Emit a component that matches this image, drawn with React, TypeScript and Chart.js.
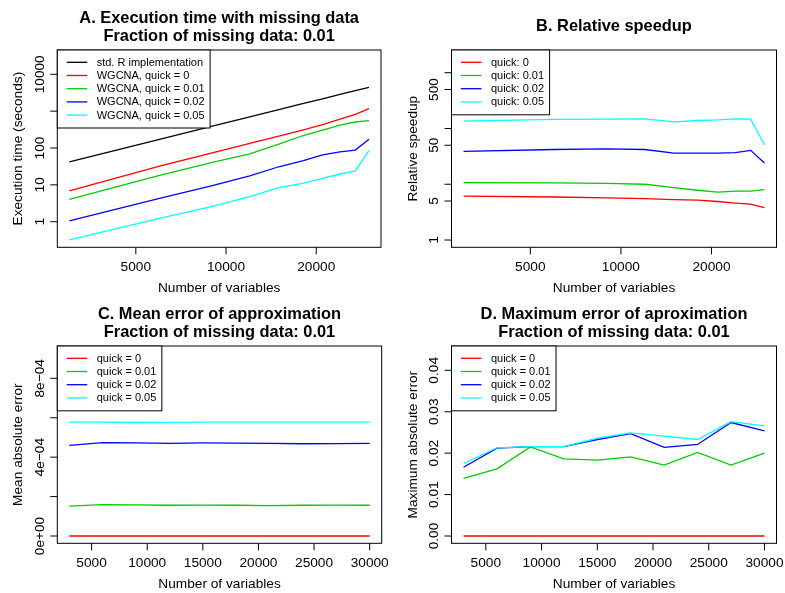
import React, { useEffect, useRef } from "react";
import { Chart, registerables } from "chart.js";

Chart.register(...registerables);

// ---------------- data ----------------
const numberOfVariables = [3000, 6000, 9000, 12000, 15000, 18000, 21000, 24000, 27000, 30000];

// A. Execution time (seconds)
const timeStdR = [42, 172, 390, 700, 1100, 1590, 2170, 2840, 3600, 4450];
const timeQuick0 = [6.9, 32, 74, 133, 211, 305, 428, 606, 822, 1165];
const timeQuick001 = [4.05, 18, 41, 69, 128, 215, 305, 421, 508, 551];
const timeQuick002 = [1.06, 4.3, 9.5, 17.4, 31, 45, 65, 79, 88, 172];
const timeQuick005 = [0.32, 1.24, 2.6, 4.8, 8.4, 11, 15, 19.7, 24, 84.5];

// B. Relative speedup
const speedupQuick0 = [6.1, 5.9, 5.7, 5.5, 5.3, 5.2, 4.9, 4.6, 4.4, 3.8];
const speedupQuick001 = [10.7, 10.6, 10.4, 10.0, 8.7, 7.8, 7.2, 7.5, 7.5, 8.0];
const speedupQuick002 = [39, 42, 43, 42, 36, 36, 36, 37, 40.5, 24];
const speedupQuick005 = [135, 145, 147, 149, 131, 139, 143, 149, 147, 51];

// C. Mean absolute error
const meanErrQuick0 = [0, 0, 0, 0, 0, 0, 0, 0, 0, 0];
const meanErrQuick001 = [1.52e-4, 1.59e-4, 1.58e-4, 1.56e-4, 1.57e-4, 1.56e-4, 1.54e-4, 1.56e-4, 1.57e-4, 1.56e-4];
const meanErrQuick002 = [4.6e-4, 4.74e-4, 4.72e-4, 4.7e-4, 4.72e-4, 4.71e-4, 4.7e-4, 4.68e-4, 4.69e-4, 4.7e-4];
const meanErrQuick005 = [5.78e-4, 5.78e-4, 5.76e-4, 5.77e-4, 5.78e-4, 5.78e-4, 5.78e-4, 5.78e-4, 5.78e-4, 5.78e-4];

// D. Maximum absolute error
const maxErrQuick0 = [0, 0, 0, 0, 0, 0, 0, 0, 0, 0];
const maxErrQuick001 = [0.0139, 0.0162, 0.0215, 0.0186, 0.0183, 0.0191, 0.0171, 0.0202, 0.0171, 0.02];
const maxErrQuick002 = [0.0166, 0.0212, 0.0216, 0.0216, 0.0233, 0.0247, 0.0214, 0.0221, 0.0274, 0.0254];
const maxErrQuick005 = [0.0175, 0.0213, 0.0216, 0.0216, 0.0236, 0.0249, 0.0241, 0.0233, 0.0276, 0.0266];

// tick values / labels
const logXTicks = [5000, 10000, 20000];
const logXTickLabels = ["5000", "10000", "20000"];
const linXTicks = [5000, 10000, 15000, 20000, 25000, 30000];
const linXTickLabels = ["5000", "10000", "15000", "20000", "25000", "30000"];
const timeTicks = [1, 10, 100, 1000, 10000];
const timeTickLabels = ["1", "10", "100", "", "10000"];
const speedupTicks = [1, 5, 10, 50, 100, 500, 1000];
const speedupTickLabels = ["1", "5", "", "50", "", "500", ""];
const meanErrTicks = [0, 2e-4, 4e-4, 6e-4, 8e-4];
const meanErrTickLabels = ["0e+00", "", "4e\u221204", "", "8e\u221204"];
const maxErrTicks = [0, 0.01, 0.02, 0.03, 0.04];
const maxErrTickLabels = ["0.00", "0.01", "0.02", "0.03", "0.04"];

const BLACK = "#000000";
const RED = "#FF0000";
const GREEN = "#00CD00";
const BLUE = "#0000FF";
const CYAN = "#00FFFF";

const FONT = '"Liberation Sans", Arial, Helvetica, sans-serif';

type Series = { label: string; values: number[]; color: string };
type PanelSpec = {
  key: string;
  left: number;
  top: number;
  width: number;
  height: number;
  pad: { left: number; right: number; top: number; bottom: number };
  xType: "linear" | "logarithmic";
  yType: "linear" | "logarithmic";
  xMin: number;
  xMax: number;
  yMin: number;
  yMax: number;
  xTicks: number[];
  xTickLabels: string[];
  yTicks: number[];
  yTickLabels: string[];
  title: string[];
  xTitle: string;
  yTitle: string;
  series: Series[];
};

const panels: PanelSpec[] = [
  {
    key: "A",
    left: 0,
    top: 0,
    width: 392,
    height: 296,
    pad: { left: 57.3, right: 11, top: 50, bottom: 48.7 },
    xType: "logarithmic",
    yType: "logarithmic",
    xMin: 2735,
    xMax: 32900,
    yMin: 0.202,
    yMax: 45700,
    xTicks: logXTicks,
    xTickLabels: logXTickLabels,
    yTicks: timeTicks,
    yTickLabels: timeTickLabels,
    title: ["A. Execution time with missing data", "Fraction of missing data: 0.01"],
    xTitle: "Number of variables",
    yTitle: "Execution time (seconds)",
    series: [
      { label: "std. R implementation", values: timeStdR, color: BLACK },
      { label: "WGCNA, quick = 0", values: timeQuick0, color: RED },
      { label: "WGCNA, quick = 0.01", values: timeQuick001, color: GREEN },
      { label: "WGCNA, quick = 0.02", values: timeQuick002, color: BLUE },
      { label: "WGCNA, quick = 0.05", values: timeQuick005, color: CYAN },
    ],
  },
  {
    key: "B",
    left: 392,
    top: 0,
    width: 393,
    height: 296,
    pad: { left: 59.5, right: 8.5, top: 50, bottom: 48.7 },
    xType: "logarithmic",
    yType: "logarithmic",
    xMin: 2735,
    xMax: 32900,
    yMin: 0.74,
    yMax: 2553,
    xTicks: logXTicks,
    xTickLabels: logXTickLabels,
    yTicks: speedupTicks,
    yTickLabels: speedupTickLabels,
    title: ["B. Relative speedup"],
    xTitle: "Number of variables",
    yTitle: "Relative speedup",
    series: [
      { label: "quick: 0", values: speedupQuick0, color: RED },
      { label: "quick: 0.01", values: speedupQuick001, color: GREEN },
      { label: "quick: 0.02", values: speedupQuick002, color: BLUE },
      { label: "quick: 0.05", values: speedupQuick005, color: CYAN },
    ],
  },
  {
    key: "C",
    left: 0,
    top: 296,
    width: 392,
    height: 297,
    pad: { left: 57.3, right: 10.3, top: 50, bottom: 49.7 },
    xType: "linear",
    yType: "linear",
    xMin: 1920,
    xMax: 31080,
    yMin: -3.7e-5,
    yMax: 9.64e-4,
    xTicks: linXTicks,
    xTickLabels: linXTickLabels,
    yTicks: meanErrTicks,
    yTickLabels: meanErrTickLabels,
    title: ["C. Mean error of approximation", "Fraction of missing data: 0.01"],
    xTitle: "Number of variables",
    yTitle: "Mean absolute error",
    series: [
      { label: "quick = 0", values: meanErrQuick0, color: RED },
      { label: "quick = 0.01", values: meanErrQuick001, color: GREEN },
      { label: "quick = 0.02", values: meanErrQuick002, color: BLUE },
      { label: "quick = 0.05", values: meanErrQuick005, color: CYAN },
    ],
  },
  {
    key: "D",
    left: 392,
    top: 296,
    width: 393,
    height: 297,
    pad: { left: 59.5, right: 8.5, top: 50, bottom: 49.7 },
    xType: "linear",
    yType: "linear",
    xMin: 1920,
    xMax: 31080,
    yMin: -0.00176,
    yMax: 0.04587,
    xTicks: linXTicks,
    xTickLabels: linXTickLabels,
    yTicks: maxErrTicks,
    yTickLabels: maxErrTickLabels,
    title: ["D. Maximum error of aproximation", "Fraction of missing data: 0.01"],
    xTitle: "Number of variables",
    yTitle: "Maximum absolute error",
    series: [
      { label: "quick = 0", values: maxErrQuick0, color: RED },
      { label: "quick = 0.01", values: maxErrQuick001, color: GREEN },
      { label: "quick = 0.02", values: maxErrQuick002, color: BLUE },
      { label: "quick = 0.05", values: maxErrQuick005, color: CYAN },
    ],
  },
];

function makeRPlugin(spec: PanelSpec) {
  return {
    id: "rStyle" + spec.key,
    afterDraw(chart: any) {
      const ctx: CanvasRenderingContext2D = chart.ctx;
      const { left, right, top, bottom } = chart.chartArea;
      const xs = chart.scales.x;
      const ys = chart.scales.y;
      ctx.save();
      ctx.strokeStyle = "#000";
      ctx.fillStyle = "#000";
      ctx.lineWidth = 1;

      // box
      ctx.strokeRect(left, top, right - left, bottom - top);

      // x ticks
      ctx.font = `13.7px ${FONT}`;
      ctx.textAlign = "center";
      ctx.textBaseline = "alphabetic";
      spec.xTicks.forEach((v, i) => {
        const px = xs.getPixelForValue(v);
        ctx.beginPath();
        ctx.moveTo(px, bottom);
        ctx.lineTo(px, bottom + 7);
        ctx.stroke();
        const lab = spec.xTickLabels[i];
        if (lab) ctx.fillText(lab, px, bottom + 23.7);
      });
      // x title
      ctx.fillText(spec.xTitle, (left + right) / 2, bottom + 44.4);

      // y ticks
      spec.yTicks.forEach((v, i) => {
        const py = ys.getPixelForValue(v);
        ctx.beginPath();
        ctx.moveTo(left - 7, py);
        ctx.lineTo(left, py);
        ctx.stroke();
        const lab = spec.yTickLabels[i];
        if (lab) {
          ctx.save();
          ctx.translate(left - 13.3, py);
          ctx.rotate(-Math.PI / 2);
          ctx.textAlign = "center";
          ctx.textBaseline = "alphabetic";
          ctx.fillText(lab, 0, 0);
          ctx.restore();
        }
      });
      // y title
      ctx.save();
      ctx.translate(left - 35, (top + bottom) / 2);
      ctx.rotate(-Math.PI / 2);
      ctx.textAlign = "center";
      ctx.textBaseline = "alphabetic";
      ctx.fillText(spec.yTitle, 0, 0);
      ctx.restore();

      // title
      ctx.font = `bold 16.4px ${FONT}`;
      ctx.textAlign = "center";
      const cx = (left + right) / 2;
      if (spec.title.length === 2) {
        ctx.fillText(spec.title[0], cx, 22.7);
        ctx.fillText(spec.title[1], cx, 40.7);
      } else {
        ctx.fillText(spec.title[0], cx, 31.2);
      }

      // legend
      ctx.font = `11px ${FONT}`;
      const rowH = 13.2;
      const textX = left + 39.4;
      let maxW = 0;
      spec.series.forEach((s) => {
        maxW = Math.max(maxW, ctx.measureText(s.label).width);
      });
      const boxW = 39.4 + maxW + 5.5;
      const boxH = spec.series.length * rowH + 12;
      ctx.fillStyle = "#fff";
      ctx.fillRect(left, top, boxW, boxH);
      ctx.strokeStyle = "#000";
      ctx.strokeRect(left, top, boxW, boxH);
      ctx.textAlign = "left";
      ctx.textBaseline = "middle";
      spec.series.forEach((s, i) => {
        const y = top + 12.3 + i * rowH;
        ctx.strokeStyle = s.color;
        ctx.lineWidth = 1.3;
        ctx.beginPath();
        ctx.moveTo(left + 9.4, y);
        ctx.lineTo(left + 30, y);
        ctx.stroke();
        ctx.fillStyle = "#000";
        ctx.fillText(s.label, textX, y + 0.5);
      });
      ctx.restore();
    },
  };
}

function Panel({ spec }: { spec: PanelSpec }) {
  const ref = useRef<HTMLCanvasElement | null>(null);
  useEffect(() => {
    const canvas = ref.current;
    if (!canvas) return;
    const n = spec.series.length;
    const chart = new Chart(canvas, {
      type: "line",
      data: {
        datasets: spec.series.map((s, i) => ({
          label: s.label,
          data: numberOfVariables.map((x, j) => ({ x, y: s.values[j] })),
          borderColor: s.color,
          backgroundColor: s.color,
          borderWidth: 1.3,
          pointRadius: 0,
          tension: 0,
          fill: false,
          order: n - 1 - i,
        })),
      },
      options: {
        responsive: false,
        maintainAspectRatio: false,
        devicePixelRatio: 1,
        animation: false,
        events: [],
        layout: { padding: spec.pad },
        scales: {
          x: {
            type: spec.xType,
            min: spec.xMin,
            max: spec.xMax,
            bounds: "data",
            display: false,
          },
          y: {
            type: spec.yType,
            min: spec.yMin,
            max: spec.yMax,
            bounds: "data",
            display: false,
          },
        },
        plugins: {
          legend: { display: false },
          title: { display: false },
          tooltip: { enabled: false },
        },
      } as any,
      plugins: [makeRPlugin(spec)],
    });
    return () => chart.destroy();
  }, [spec]);
  return (
    <canvas
      ref={ref}
      width={spec.width}
      height={spec.height}
      style={{
        position: "absolute",
        left: spec.left,
        top: spec.top,
        width: spec.width,
        height: spec.height,
      }}
    />
  );
}

export default function App() {
  return (
    <div
      style={{
        position: "absolute",
        left: 0,
        top: 0,
        width: 785,
        height: 593,
        background: "#fff",
        overflow: "hidden",
      }}
    >
      {panels.map((p) => (
        <Panel key={p.key} spec={p} />
      ))}
    </div>
  );
}
